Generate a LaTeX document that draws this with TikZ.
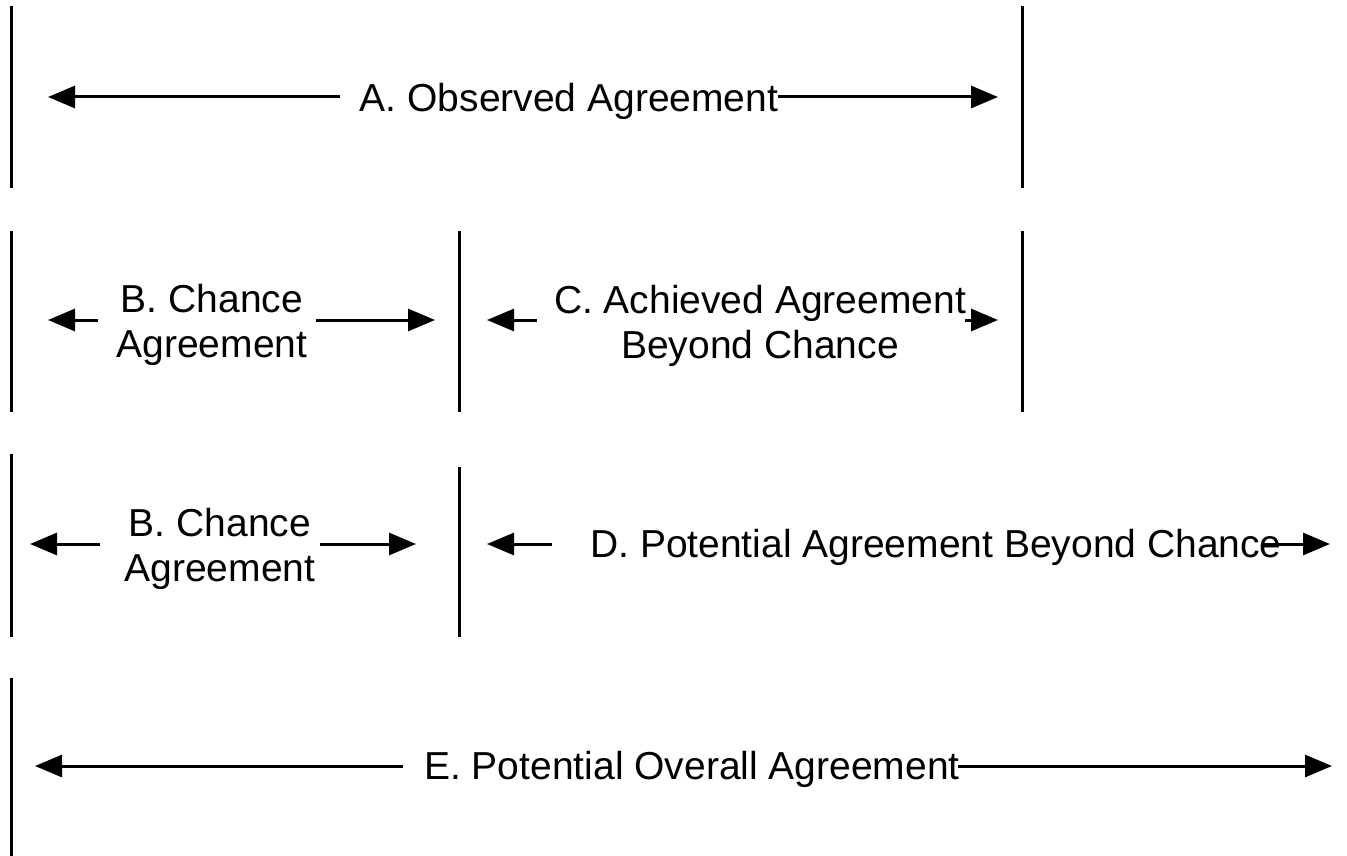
\documentclass[tikz,border=0pt]{standalone}
\usepackage{fontspec}
\setmainfont{Liberation Sans}
\usetikzlibrary{arrows.meta}

\begin{document}
\begin{tikzpicture}[x=1pt,y=-1pt,
  every node/.style={inner sep=0pt,font=\fontsize{39}{45}\selectfont},
  lbl/.style={anchor=base,align=center},
  bar/.style={line width=3pt},
  arr/.style={line width=3pt,-{Triangle[length=27pt,width=22pt]}}]
\useasboundingbox (0,0) rectangle (1347,856);
% A. observed agreement
\draw [bar] (11,6) -- (11,188);
\draw [bar] (1022,6) -- (1022,188);
\node [lbl] (obs) at (569,112) {A. Observed Agreement};
\coordinate (obsL) at (340,97); \coordinate (obsLtip) at (48,97);
\coordinate (obsR) at (778,97); \coordinate (obsRtip) at (998,97);
\draw [arr] (obsL) -- (obsLtip);
\draw [arr] (obsR) -- (obsRtip);
% B. chance + C. achieved (base = last line)
\draw [bar] (11,231) -- (11,412);
\draw [bar] (459,231) -- (459,412);
\draw [bar] (1022,231) -- (1022,412);
\node [lbl] (chanceB) at (212,357) {B. Chance\\Agreement};
\node [lbl] (achC) at (760,358) {C. Achieved Agreement\\Beyond Chance};
\coordinate (chBL) at (98,320); \coordinate (chBLtip) at (48,320);
\coordinate (chBR) at (316,320); \coordinate (chBRtip) at (435,320);
\coordinate (achL) at (537,320); \coordinate (achLtip) at (487,320);
\coordinate (achR) at (965,320); \coordinate (achRtip) at (998,320);
\draw [arr] (chBL) -- (chBLtip);
\draw [arr] (chBR) -- (chBRtip);
\draw [arr] (achL) -- (achLtip);
\draw [arr] (achR) -- (achRtip);
% B. chance + D. potential beyond chance
\draw [bar] (11,454) -- (11,637);
\draw [bar] (459,467) -- (459,637);
\node [lbl] (chanceB2) at (220,581) {B. Chance\\Agreement};
\node [lbl] (potD) at (936,557) {D. Potential Agreement Beyond Chance};
\coordinate (ch2L) at (100,544); \coordinate (ch2Ltip) at (30,544);
\coordinate (ch2R) at (320,544); \coordinate (ch2Rtip) at (416,544);
\coordinate (potL) at (552,544); \coordinate (potLtip) at (487,544);
\coordinate (potR) at (1263,544); \coordinate (potRtip) at (1330,544);
\draw [arr] (ch2L) -- (ch2Ltip);
\draw [arr] (ch2R) -- (ch2Rtip);
\draw [arr] (potL) -- (potLtip);
\draw [arr] (potR) -- (potRtip);
% E. potential overall agreement
\draw [bar] (11,678) -- (11,856);
\node [lbl] (overE) at (692,779) {E. Potential Overall Agreement};
\coordinate (ovL) at (403,766); \coordinate (ovLtip) at (35,766);
\coordinate (ovR) at (958,766); \coordinate (ovRtip) at (1332,766);
\draw [arr] (ovL) -- (ovLtip);
\draw [arr] (ovR) -- (ovRtip);
\end{tikzpicture}
\end{document}
